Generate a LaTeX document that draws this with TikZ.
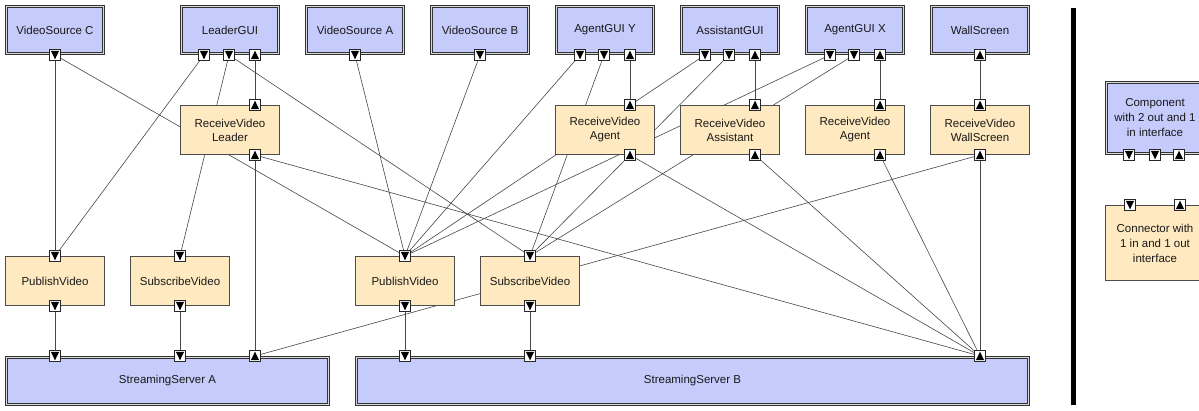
\documentclass[tikz,border=0pt]{standalone}
\usepackage{fontspec}
\setmainfont{Liberation Sans}
\usetikzlibrary{backgrounds}
\definecolor{compblue}{RGB}{197,203,250}
\definecolor{connorange}{RGB}{255,233,192}
\begin{document}
\begin{tikzpicture}[x=1pt,y=-1pt,
  txt/.style={font=\fontsize{11.5}{14}\selectfont, align=center, text=black!90},
  comp/.style={txt, draw=black!80, double=black!15, double distance=1.2pt, line width=0.8pt,
    fill=compblue, minimum width=97.2pt, minimum height=47.2pt, inner sep=0pt},
  conn/.style={txt, draw=black!70, line width=0.8pt, fill=connorange,
    minimum width=99.2pt, minimum height=49.2pt, inner sep=0pt},
  portbox/.style={draw=black!85, fill=white, line width=0.6pt, minimum size=11pt, inner sep=0pt},
  pdown/.style={portbox, path picture={\fill[black] ([shift={(1.4pt,-1.4pt)}]path picture bounding box.north west)
      -- ([shift={(-1.4pt,-1.4pt)}]path picture bounding box.north east)
      -- ([shift={(0pt,1.2pt)}]path picture bounding box.south) -- cycle;}},
  pup/.style={portbox, path picture={\fill[black] ([shift={(1.4pt,1.4pt)}]path picture bounding box.south west)
      -- ([shift={(-1.4pt,1.4pt)}]path picture bounding box.south east)
      -- ([shift={(0pt,-1.2pt)}]path picture bounding box.north) -- cycle;}},
  link/.style={draw=black!72, line width=0.6pt},
  separator/.style={line width=4.5pt, draw=black}
]
\clip (0,0) rectangle (1199,411);

% ---------- top row components ----------
\node[comp] (vsc) at (55,30) {VideoSource C};
\node[comp] (lg)  at (230,30) {LeaderGUI};
\node[comp] (vsa) at (355,30) {VideoSource A};
\node[comp] (vsb) at (480,30) {VideoSource B};
\node[comp] (agy) at (605,30) {AgentGUI Y};
\node[comp] (asg) at (730,30) {AssistantGUI};
\node[comp] (agx) at (855,30) {AgentGUI X};
\node[comp] (ws)  at (980,30) {WallScreen};

% ---------- middle row connectors ----------
\node[conn] (rvl) at (230,130) {ReceiveVideo\\Leader};
\node[conn] (rvy) at (605,130) {ReceiveVideo\\Agent};
\node[conn] (rva) at (730,130) {ReceiveVideo\\Assistant};
\node[conn] (rvx) at (855,130) {ReceiveVideo\\Agent};
\node[conn] (rvw) at (980,130) {ReceiveVideo\\WallScreen};

% ---------- third row connectors ----------
\node[conn] (pva) at (55,281) {PublishVideo};
\node[conn] (sva) at (180,281) {SubscribeVideo};
\node[conn] (pvb) at (405,281) {PublishVideo};
\node[conn] (svb) at (530,281) {SubscribeVideo};

% ---------- servers ----------
\node[comp, minimum width=322.2pt] (ssa) at (167.5,381) {StreamingServer A};
\node[comp, minimum width=672.2pt] (ssb) at (692.5,381) {StreamingServer B};

% ---------- ports ----------
\node[pdown] (vsc-o) at (55,55) {};
\node[pdown] (lg-o1) at (204,55) {};
\node[pdown] (lg-o2) at (229,55) {};
\node[pup]   (lg-i)  at (255,55) {};
\node[pdown] (vsa-o) at (355,55) {};
\node[pdown] (vsb-o) at (480,55) {};
\node[pdown] (agy-o1) at (580,55) {};
\node[pdown] (agy-o2) at (604,55) {};
\node[pup]   (agy-i)  at (630,55) {};
\node[pdown] (asg-o1) at (705,55) {};
\node[pdown] (asg-o2) at (729,55) {};
\node[pup]   (asg-i)  at (755,55) {};
\node[pdown] (agx-o1) at (830,55) {};
\node[pdown] (agx-o2) at (854,55) {};
\node[pup]   (agx-i)  at (880,55) {};
\node[pup]   (ws-i)   at (980,55) {};

\node[pup] (rvl-t) at (255,105) {};
\node[pup] (rvl-b) at (255,155) {};
\node[pup] (rvy-t) at (630,105) {};
\node[pup] (rvy-b) at (630,155) {};
\node[pup] (rva-t) at (755,105) {};
\node[pup] (rva-b) at (755,155) {};
\node[pup] (rvx-t) at (880,105) {};
\node[pup] (rvx-b) at (880,155) {};
\node[pup] (rvw-t) at (980,105) {};
\node[pup] (rvw-b) at (980,155) {};

\node[pdown] (pva-t) at (55,256) {};
\node[pdown] (pva-b) at (55,306) {};
\node[pdown] (sva-t) at (180,256) {};
\node[pdown] (sva-b) at (180,306) {};
\node[pdown] (pvb-t) at (405,256) {};
\node[pdown] (pvb-b) at (405,306) {};
\node[pdown] (svb-t) at (530,256) {};
\node[pdown] (svb-b) at (530,306) {};

\node[pdown] (ssa-1) at (55,356) {};
\node[pdown] (ssa-2) at (180,356) {};
\node[pup]   (ssa-3) at (255,356) {};
\node[pdown] (ssb-1) at (405,356) {};
\node[pdown] (ssb-2) at (530,356) {};
\node[pup]   (ssb-3) at (980,356) {};

% ---------- separator ----------
\coordinate (sep-top) at (1073.5,8);
\coordinate (sep-bot) at (1073.5,405);
\draw[separator] (sep-top) -- (sep-bot);

% ---------- legend ----------
\node[comp, minimum width=97.2pt, minimum height=71.2pt, font=\fontsize{11.5}{15}\selectfont] (lgcomp) at (1155,118) {Component\\with 2 out and 1\\in interface};
\node[pdown] (lgcomp-o1) at (1129,155) {};
\node[pdown] (lgcomp-o2) at (1155,155) {};
\node[pup]   (lgcomp-i)  at (1179,155) {};
\node[conn, minimum height=75.2pt, font=\fontsize{11.5}{15}\selectfont] (lgconn) at (1155,243) {Connector with\\1 in and 1 out\\interface};
\node[pdown] (lgconn-i) at (1130,205) {};
\node[pup]   (lgconn-o) at (1180,205) {};

% ---------- links (behind everything) ----------
\begin{pgfonlayer}{background}
\fill[white] (0,0) rectangle (1199,411);
\draw[link] (vsc-o.center) -- (pva-t.center);
\draw[link] (vsc-o.center) -- (pvb-t.center);
\draw[link] (lg-o1.center) -- (pva-t.center);
\draw[link] (lg-o2.center) -- (sva-t.center);
\draw[link] (lg-o2.center) -- (svb-t.center);
\draw[link] (lg-i.center) -- (rvl-t.center);
\draw[link] (vsa-o.center) -- (pvb-t.center);
\draw[link] (vsb-o.center) -- (pvb-t.center);
\draw[link] (agy-o1.center) -- (pvb-t.center);
\draw[link] (agy-o2.center) -- (svb-t.center);
\draw[link] (agy-i.center) -- (rvy-t.center);
\draw[link] (asg-o1.center) -- (pvb-t.center);
\draw[link] (asg-o2.center) -- (svb-t.center);
\draw[link] (asg-i.center) -- (rva-t.center);
\draw[link] (agx-o1.center) -- (pvb-t.center);
\draw[link] (agx-o2.center) -- (svb-t.center);
\draw[link] (agx-i.center) -- (rvx-t.center);
\draw[link] (ws-i.center) -- (rvw-t.center);
\draw[link] (rvl-b.center) -- (ssa-3.center);
\draw[link] (rvl-b.center) -- (ssb-3.center);
\draw[link] (rvy-b.center) -- (ssb-3.center);
\draw[link] (rva-b.center) -- (ssb-3.center);
\draw[link] (rvx-b.center) -- (ssb-3.center);
\draw[link] (rvw-b.center) -- (ssb-3.center);
\draw[link] (rvw-b.center) -- (ssa-3.center);
\draw[link] (pva-b.center) -- (ssa-1.center);
\draw[link] (sva-b.center) -- (ssa-2.center);
\draw[link] (pvb-b.center) -- (ssb-1.center);
\draw[link] (svb-b.center) -- (ssb-2.center);
\end{pgfonlayer}
\end{tikzpicture}
\end{document}
